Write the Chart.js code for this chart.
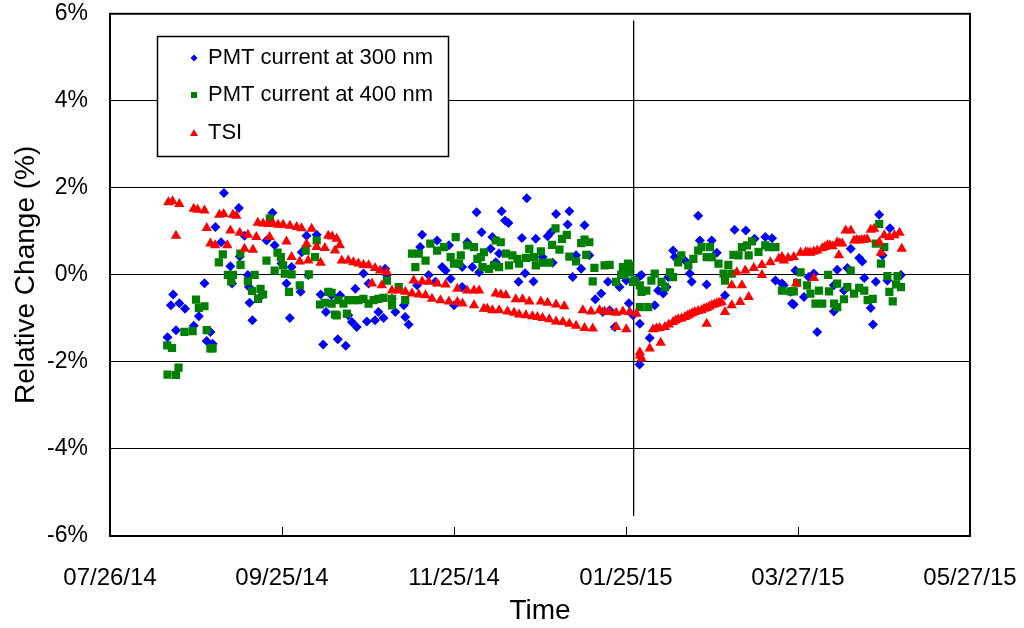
<!DOCTYPE html>
<html><head><meta charset="utf-8">
<script src="https://cdn.jsdelivr.net/npm/chart.js@4.4.1/dist/chart.umd.min.js"></script>
<style>html,body{margin:0;padding:0;background:#fff}</style>
</head><body>
<canvas id="c" width="1024" height="628" style="display:block"></canvas>
<script>
// x values are days since 07/26/14
const xTickDays = [0, 61, 122, 183, 244, 305];
const xTickLabels = ['07/26/14', '09/25/14', '11/25/14', '01/25/15', '03/27/15', '05/27/15'];
const yTickValues = [-6, -4, -2, 0, 2, 4, 6];
const seriesNames = ['PMT current at 300 nm', 'PMT current at 400 nm', 'TSI'];

const pmt300 = [
[40.4,1.88],[45.7,1.54],[37.4,1.10],[57.6,1.43],[39.4,0.75],[42.7,0.20],[33.5,-0.19],[22.4,-0.45],[21.6,-0.70],[24.6,-0.65],
[26.6,-0.78],[31.5,-0.95],[23.4,-1.27],[20.4,-1.43],[29.7,-1.17],[35.6,-1.31],[34.3,-1.52],[36.4,-1.58],[49.5,-0.64],[50.5,-1.04],
[63.8,-0.99],[53.2,-0.51],[49.3,-0.28],[43.3,-0.20],[48.9,0.00],[46.0,0.42],[47.7,0.90],[55.5,0.79],[58.4,0.68],[60.8,0.26],
[64.4,0.18],[69.7,0.90],[73.3,0.92],[62.6,-0.20],[67.6,-0.39],[70.3,0.00],[74.7,-0.45],[76.6,-0.85],[75.6,-1.60],[68.0,0.52],
[130.0,1.44],[131.8,0.98],[110.7,0.92],[116.0,0.79],[126.7,0.75],[120.2,0.68],[110.0,0.64],[117.8,0.18],[119.0,0.10],[124.9,0.18],
[128.5,0.18],[113.0,0.00],[115.4,-0.16],[120.8,-0.09],[108.9,-0.24],[124.9,-0.28],[130.9,0.06],[122.0,-0.70],[97.6,0.14],[98.2,0.00],
[89.9,0.03],[87.0,-0.32],[91.7,-0.20],[78.6,-0.47],[81.6,-0.47],[84.5,-0.93],[85.8,-1.08],[87.5,-1.20],[91.1,-1.07],[94.0,-1.04],
[95.2,-0.85],[97.0,-0.99],[80.8,-1.48],[83.6,-1.63],[101.2,-0.85],[104.7,-0.97],[105.9,-1.14],[104.2,-0.70],[100.0,-0.55],
[147.8,1.76],[138.9,1.46],[140.1,1.25],[141.3,1.19],[158.2,1.40],[162.9,1.46],[162.3,1.16],[168.3,1.14],[135.6,0.87],[146.1,0.85],
[151.0,0.83],[155.2,0.89],[156.4,0.98],[135.0,0.60],[138.0,0.49],[153.4,0.41],[157.0,0.28],[165.3,0.45],[170.0,0.45],[167.1,0.14],
[147.2,0.04],[144.9,-0.16],[150.2,-0.15],[164.1,-0.05],[136.8,0.29],[174.2,-0.43],[172.1,-0.56],[176.6,-0.16],[180.7,-0.28],[183.1,-0.13],
[187.8,-0.03],[184.0,-0.65],[185.5,-0.93],[179.0,-1.20],[174.8,-0.85],[177.2,-0.81],[187.8,-2.06],
[208.6,1.36],[221.5,1.04],[225.5,1.02],[199.7,0.56],[209.2,0.79],[213.4,0.79],[215.2,0.51],[232.4,0.87],[234.8,0.84],[228.6,0.83],
[188.5,0.00],[198.0,-0.05],[206.3,-0.16],[211.6,-0.22],[205.6,0.03],[194.4,-0.36],[196.2,-0.43],[197.4,-0.28],[193.2,-0.70],[187.9,-1.12],
[191.4,-1.45],[218.1,-0.47],[236.0,-0.13],[238.9,-0.24],[241.3,-0.39],[241.9,-0.66],[200.3,0.41],[203.9,0.33],
[272.8,1.38],[276.6,1.07],[262.7,0.60],[265.7,0.39],[266.8,0.31],[257.9,0.12],[261.5,0.16],[243.1,0.10],[249.6,0.03],[247.8,-0.05],
[238.3,-0.20],[246.1,-0.51],[242.5,-0.68],[256.7,-0.24],[260.3,-0.36],[267.5,-0.07],[271.6,-0.16],[269.8,-0.76],[256.7,-0.84],[270.6,-1.14],
[250.8,-1.31],[275.7,-0.13],[280.5,0.00],[274.0,0.45]
];

const pmt400 = [
[20.3,-1.62],[22.0,-1.68],[26.4,-1.31],[29.3,-1.29],[34.3,-1.27],[30.5,-0.57],[31.5,-0.76],[33.5,-0.72],[35.6,-1.69],[36.4,-1.69],
[20.4,-2.29],[23.4,-2.30],[24.3,-2.13],[38.6,0.29],[40.0,0.47],[41.8,0.00],[43.6,0.00],[43.0,-0.15],[46.2,0.49],[46.3,0.23],
[48.9,-0.15],[51.3,0.00],[50.4,-0.37],[53.4,-0.32],[52.5,-0.55],[54.3,-0.45],[55.5,0.33],[56.7,1.30],[59.4,0.51],[60.6,0.41],
[58.4,0.10],[61.4,0.22],[62.0,0.03],[64.4,0.01],[67.3,-0.24],[63.5,-0.39],[70.5,0.01],[69.4,0.56],[73.3,0.79],[72.7,0.41],
[77.4,-0.39],[78.6,-0.41],[74.5,-0.68],[76.2,-0.64],[79.8,-0.91],
[81.0,-0.58],[82.8,-0.66],[84.5,-0.58],[86.3,-0.58],[88.1,-0.58],[89.9,-0.55],[91.7,-0.66],[93.5,-0.58],[95.2,-0.55],[97.0,-0.53],
[80.4,-0.93],[84.0,-0.89],[78.6,-0.66],[98.2,-0.13],[100.0,-0.55],[102.4,-0.28],[104.7,-0.58],[100.0,-0.70],[107.1,0.49],[109.5,0.49],
[111.9,0.33],[108.3,0.18],[113.6,0.72],[116.0,0.56],[118.4,0.64],[120.8,0.41],[122.6,0.87],[124.4,0.45],[126.7,0.68],[129.1,0.64],
[131.5,0.41],[132.1,0.18],[122.0,0.26],[123.8,0.26],
[130.3,0.37],[132.6,0.52],[136.8,0.79],[138.6,0.75],[134.4,0.14],[136.2,0.22],[138.0,0.18],[140.4,0.49],[142.7,0.45],[144.5,0.37],
[147.5,0.39],[150.4,0.41],[152.8,0.54],[148.7,0.60],[141.5,0.22],[145.1,0.26],[151.0,0.22],[153.4,0.28],[155.8,0.28],[156.8,0.69],
[159.4,0.58],[158.0,1.07],[160.3,0.83],[162.0,0.92],[162.9,0.42],[165.3,0.31],[168.9,0.46],[167.1,0.73],[168.3,0.81],[170.0,0.75],
[171.8,0.16],[175.4,0.22],[177.2,0.23],[171.2,-0.15],[179.5,-0.16],[182.5,0.00],[184.3,0.22],[185.5,-0.16],[181.9,0.18],
[183.7,0.26],[184.3,0.06],[181.3,0.00],[186.1,-0.13],[187.9,-0.24],[188.5,-0.39],[190.2,-0.36],[187.9,-0.74],[190.9,-0.74],[193.2,0.03],
[192.0,-0.13],[195.6,-0.16],[196.8,-0.28],[198.6,0.06],[199.7,-0.05],[201.5,0.29],[202.6,0.45],[205.1,0.22],[206.9,0.37],[208.6,0.56],
[209.8,0.64],[211.6,0.41],[212.8,0.64],[213.4,0.41],[215.8,0.26],[217.6,0.03],[218.1,-0.13],[219.3,0.23],[220.5,0.03],[221.1,0.46],
[222.9,0.45],[224.1,0.64],[225.9,0.68],[227.7,0.77],[226.5,0.45],[230.0,0.53],[232.4,0.68],[233.6,0.64],[236.0,0.64],[238.3,-0.36],
[241.3,-0.38],
[242.5,-0.38],[244.9,0.06],[243.7,-0.18],[247.2,-0.24],[248.4,-0.43],[251.4,-0.36],[250.2,-0.66],[252.6,-0.66],[255.0,-0.38],[256.8,-0.66],
[257.9,-0.74],[260.3,-0.56],[257.9,-0.20],[261.5,-0.28],[262.7,0.10],[263.9,-0.43],[265.7,-0.30],[267.5,-0.36],[268.7,-0.58],[270.5,-0.55],
[272.8,1.17],[271.6,0.72],[274.6,0.64],[273.4,0.26],[275.7,-0.03],[279.3,-0.03],[276.4,-0.39],[277.6,-0.61],[278.8,-0.22],[280.5,-0.28],
[254.7,0.00]
];

const tsi = [
[20.7,1.67],[22.2,1.69],[24.6,1.63],[23.4,0.90],[29.7,1.52],[31.1,1.50],[33.5,1.48],[34.3,1.08],[38.8,1.38],[40.3,1.40],
[43.6,1.38],[44.8,1.36],[35.6,0.72],[37.3,0.68],[41.6,0.68],[42.7,1.02],[46.0,0.97],[48.9,0.92],[51.9,0.87],[47.7,0.60],
[50.7,0.58],[52.4,1.20],[54.3,1.18],[56.0,1.17],[57.8,1.18],[59.6,1.15],[61.4,1.15],[63.8,1.13],[66.2,1.10],[67.9,1.07],
[56.6,0.87],[62.6,0.77],[69.7,0.71],[71.5,1.06],[73.3,0.64],[76.2,0.62],[64.4,0.41],[67.3,0.31],[70.3,0.33],[74.7,0.28],
[77.4,0.90],[78.8,0.88],[79.8,0.56],
[80.4,0.83],[81.5,0.68],[82.2,0.33],[84.5,0.33],[86.3,0.29],[88.1,0.26],[89.9,0.23],[91.7,0.22],[94.0,0.16],[95.8,0.10],
[98.2,0.06],[92.9,-0.20],[96.4,-0.24],[100.0,-0.36],[102.4,-0.36],[104.7,-0.39],[107.1,-0.43],[109.5,-0.45],[111.9,-0.47],[107.7,-0.13],
[110.7,-0.15],[113.0,-0.16],[116.0,-0.20],[119.0,-0.22],[114.2,-0.55],[117.2,-0.58],[120.2,-0.61],[123.2,-0.62],[125.0,-0.66],[123.2,-0.32],
[126.7,-0.36],[129.1,-0.36],[130.9,-0.36],[129.1,-0.70],[132.6,-0.78],
[133.8,-0.78],[135.6,-0.81],[138.0,-0.81],[141.0,-0.84],[143.3,-0.87],[145.1,-0.91],[147.5,-0.93],[149.8,-0.95],[151.6,-0.97],[153.4,-0.99],
[155.8,-1.02],[158.2,-1.07],[160.6,-1.08],[162.9,-1.12],[165.3,-1.17],[168.3,-1.22],[171.2,-1.23],
[136.8,-0.43],[138.6,-0.45],[140.4,-0.47],[143.9,-0.56],[146.3,-0.56],[148.7,-0.61],[152.8,-0.61],[155.2,-0.64],[158.2,-0.68],[161.1,-0.72],
[167.7,-0.81],[170.6,-0.84],[173.6,-0.81],[175.4,-0.84],[177.2,-0.85],[179.5,-0.87],[181.9,-0.84],[184.3,-0.85],[186.7,-0.89],
[179.5,-1.20],[183.1,-1.25],
[187.9,-1.78],[187.9,-1.85],[188.5,-1.92],[191.4,-1.69],[195.3,-1.56],[192.6,-1.25],[193.8,-1.23],[194.9,-1.22],[196.8,-1.20],[198.2,-1.14],
[199.7,-1.08],[200.6,-1.05],[201.5,-1.02],[202.7,-1.00],[203.9,-0.97],[204.8,-0.94],[205.6,-0.91],[206.5,-0.88],[207.4,-0.85],[208.6,-0.83],
[209.8,-0.81],[210.7,-0.78],[211.6,-0.76],[212.5,-0.73],[213.4,-0.70],[214.3,-0.68],[215.2,-0.66],[216.0,-0.64],[216.9,-0.62],[211.6,-1.12],
[218.1,-0.85],[220.5,-0.70],[223.5,-0.62],[226.5,-0.51],[220.5,-0.24],[224.1,-0.24],[222.3,0.06],[225.3,0.10],[228.3,0.16],[231.2,0.23],
[234.2,0.29],[237.2,0.37],[239.0,0.33],[231.2,0.00],[238.3,0.41],
[240.5,0.39],[242.5,0.41],[244.9,0.51],[246.7,0.52],[247.5,0.52],[248.4,0.51],[249.6,0.54],[250.8,0.56],[252.6,0.61],[253.5,0.64],
[254.4,0.68],[255.3,0.68],[256.2,0.66],[257.9,0.75],[258.8,0.73],[259.7,0.72],[260.9,1.02],[262.7,1.02],[263.9,0.79],[264.8,0.80],
[265.7,0.79],[266.6,0.80],[267.5,0.81],[268.5,0.82],[269.8,1.04],[271.0,1.06],[272.8,0.75],[274.6,0.91],[276.4,0.87],[278.2,0.91],
[280.0,0.97],[280.8,0.60],[273.4,0.51],[258.5,0.45],[249.6,-0.07],[243.3,-0.20]
];

const markerLine = [[185.7, 5.84], [185.7, -5.53]];

const FONT = '"Liberation Sans", Arial, sans-serif';
Chart.defaults.font.family = FONT;
Chart.defaults.color = '#000';

const toPts = arr => arr.map(p => ({x: p[0], y: p[1]}));

const framePlugin = {
  id: 'frame',
  afterDraw(chart) {
    const ctx = chart.ctx;
    const a = chart.chartArea;
    const xs = chart.scales.x;
    ctx.save();
    // inward ticks on x axis
    ctx.strokeStyle = '#000';
    ctx.lineWidth = 1;
    xTickDays.forEach(d => {
      const px = Math.round(xs.getPixelForValue(d)) + 0.5;
      ctx.beginPath();
      ctx.moveTo(px, a.bottom);
      ctx.lineTo(px, a.bottom - 9);
      ctx.stroke();
    });
    // plot frame
    ctx.lineWidth = 2;
    ctx.strokeRect(a.left, a.top, a.right - a.left, a.bottom - a.top);
    // legend box
    const lx = 157, ly = 36, lw = 291, lh = 120;
    ctx.fillStyle = '#fff';
    ctx.fillRect(lx, ly, lw, lh);
    ctx.lineWidth = 1.5;
    ctx.strokeStyle = '#000';
    ctx.strokeRect(lx + 0.5, ly + 0.5, lw, lh);
    const rows = [58, 95, 133];
    const mx = 194;
    ctx.fillStyle = '#0000FF';
    ctx.beginPath();
    ctx.moveTo(mx, rows[0] - 3.5); ctx.lineTo(mx + 3.5, rows[0]); ctx.lineTo(mx, rows[0] + 3.5); ctx.lineTo(mx - 3.5, rows[0]);
    ctx.closePath(); ctx.fill();
    ctx.fillStyle = '#008000';
    ctx.fillRect(mx - 3, rows[1] - 3, 6, 6);
    ctx.fillStyle = '#FF0000';
    ctx.beginPath();
    ctx.moveTo(mx, rows[2] - 4); ctx.lineTo(mx + 4, rows[2] + 3); ctx.lineTo(mx - 4, rows[2] + 3);
    ctx.closePath(); ctx.fill();
    ctx.fillStyle = '#000';
    ctx.font = '22px ' + FONT;
    ctx.textBaseline = 'middle';
    ctx.textAlign = 'left';
    seriesNames.forEach((n, i) => ctx.fillText(n, 208, rows[i]));
    ctx.restore();
  }
};

new Chart(document.getElementById('c'), {
  type: 'scatter',
  data: {
    datasets: [
      {label: seriesNames[2], data: toPts(tsi), pointStyle: 'triangle', pointRadius: 6, pointHoverRadius: 6,
       backgroundColor: '#FF0000', borderColor: '#FF0000', pointBorderWidth: 0, order: 0},
      {label: seriesNames[1], data: toPts(pmt400), pointStyle: 'rect', pointRadius: 5.8, pointHoverRadius: 5.8,
       backgroundColor: '#008000', borderColor: '#008000', pointBorderWidth: 0, order: 1},
      {label: seriesNames[0], data: toPts(pmt300), pointStyle: 'rectRot', pointRadius: 5, pointHoverRadius: 5,
       backgroundColor: '#0000FF', borderColor: '#0000FF', pointBorderWidth: 0, order: 2},
      {label: 'marker', data: toPts(markerLine), showLine: true, pointRadius: 0, borderColor: '#000', borderWidth: 1, order: 3}
    ]
  },
  options: {
    responsive: false,
    animation: false,
    devicePixelRatio: 1,
    layout: {padding: {left: 0, right: 54, top: 13, bottom: 0}},
    plugins: {legend: {display: false}, tooltip: {enabled: false}},
    scales: {
      x: {
        type: 'linear', min: 0, max: 305,
        afterBuildTicks: s => { s.ticks = xTickDays.map(v => ({value: v})); },
        afterFit: s => { s.height = 92; },
        ticks: {
          autoSkip: false, maxRotation: 0, padding: 0, color: '#000',
          font: {size: 24, family: FONT},
          callback: v => { const i = xTickDays.indexOf(v); return i >= 0 ? xTickLabels[i] : ''; }
        },
        grid: {display: false, drawTicks: true, tickLength: 28},
        border: {display: false},
        title: {display: true, text: 'Time', color: '#000', font: {size: 28, family: FONT}, padding: {top: 0, bottom: 0}}
      },
      y: {
        type: 'linear', min: -6, max: 6,
        afterBuildTicks: s => { s.ticks = yTickValues.map(v => ({value: v})); },
        afterFit: s => { s.width = 110; },
        ticks: {padding: 0, color: '#000', font: {size: 23, family: FONT}, callback: v => v + '%'},
        grid: {color: '#000', lineWidth: 1, drawTicks: true, tickLength: 22, tickColor: 'rgba(0,0,0,0)'},
        border: {display: false},
        title: {display: true, text: 'Relative Change (%)', color: '#000', font: {size: 28, family: FONT}, padding: {top: 9, bottom: 0}}
      }
    }
  },
  plugins: [framePlugin]
});
</script>
</body></html>
